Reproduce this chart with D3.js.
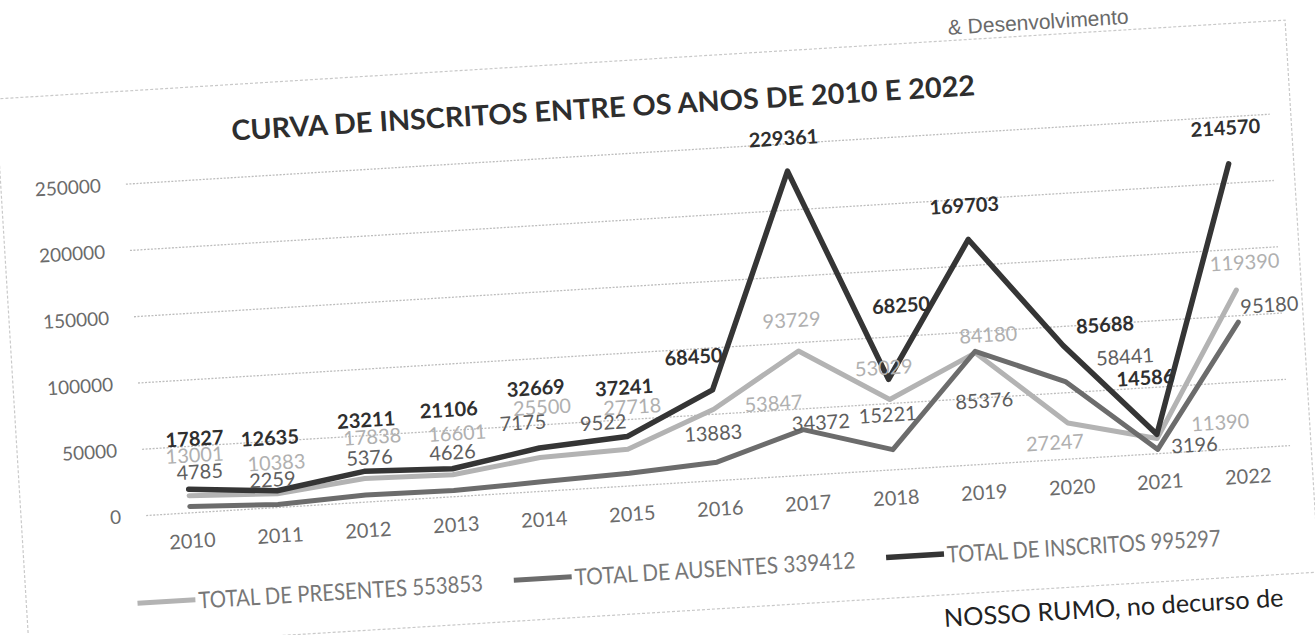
<!DOCTYPE html>
<html><head><meta charset="utf-8">
<script src="https://cdn.jsdelivr.net/npm/d3@7"></script>
<style>html,body{margin:0;padding:0;background:#fff;overflow:hidden}svg{display:block}</style>
</head><body>
<svg id="chart" width="1315" height="635"></svg>
<script>
// ---------- data ----------
const years = ["2010","2011","2012","2013","2014","2015","2016","2017","2018","2019","2020","2021","2022"];
const presentes = [13001,10383,17838,16601,25500,27718,53847,93729,53029,84180,27247,11390,119390];
const ausentes  = [4785,2259,5376,4626,7175,9522,13883,34372,15221,85376,58441,3196,95180];
const inscritos = [17827,12635,23211,21106,32669,37241,68450,229361,68250,169703,85688,14586,214570];
const yTicks = [0,50000,100000,150000,200000,250000];
const seriesNames = ["TOTAL DE PRESENTES","TOTAL DE AUSENTES","TOTAL DE INSCRITOS"];
const chartTitle = "CURVA DE INSCRITOS ENTRE OS ANOS DE 2010 E 2022";
const headerText = "& Desenvolvimento";
const bodyText = "NOSSO RUMO, no decurso de";

// ---------- layout / style ----------
const W = 1315, H = 635;
const tilt = -3.5, pivot = [657, 317];
const plot = {left:135, right:1281, top:152, bottom:484};
const styles = [
  {line:"#b3b3b3", width:5, label:"#b0b0b0", weight:"normal"},
  {line:"#6c6c6c", width:5, label:"#5e5e5e", weight:"normal"},
  {line:"#353535", width:5.5, label:"#2f2f2f", weight:"bold"}
];
// manual label nudges (px) relative to each point, as placed in the original chart
const labelNudge = [
  [[8,-41],[1,-32],[10,-42],[7,-42],[5,-51],[7,-43],[60,-3],[-5,-32],[-4,-33],[14,-18],[-14,18],[64,-13],[10,-28]],
  [[12,-35],[-4,-26],[6,-38],[1,-39],[-15,-61],[-23,-53],[-2,-30],[18,-7],[-3,-36],[6,49],[61,-22],[37,-3],[32,-16]],
  [[9,-51],[-4,-54],[5,-52],[0,-60],[0,-61],[0,-50],[-17,-35],[-2,-34],[17,-74],[-2,-35],[43,-19],[-8,-58],[-1,-37]]
];
const FONT = "Lato, 'Open Sans', sans-serif";

const svg = d3.select("#chart");
svg.append("rect").attr("width",W).attr("height",H).attr("fill","#fff");
const g = svg.append("g").attr("transform",`rotate(${tilt} ${pivot[0]} ${pivot[1]})`);

// page header / body text
g.append("text").attr("x",965).attr("y",53).attr("font-family","'Liberation Sans', Arial, sans-serif")
  .attr("font-size",21).attr("fill","#6a6a6a").text(headerText);
g.append("text").attr("x",925).attr("y",644).attr("font-family",FONT)
  .attr("font-size",25).attr("fill","#222").attr("textLength",340).attr("lengthAdjust","spacingAndGlyphs").text(bodyText);

// chart border
g.append("rect").attr("x",10).attr("y",59).attr("width",1292).attr("height",553)
  .attr("fill","none").attr("stroke","#c9c9c9").attr("stroke-width",1.2).attr("stroke-dasharray","3 2");

// title
g.append("text").attr("x",616).attr("y",104).attr("text-anchor","middle").attr("dominant-baseline","central")
  .attr("font-family",FONT).attr("font-weight","bold").attr("font-size",28).attr("fill","#2e2e2e")
  .attr("textLength",745).attr("lengthAdjust","spacingAndGlyphs").text(chartTitle);

// scales
const x = d3.scalePoint().domain(years).range([plot.left, plot.right]).padding(0.5);
const y = d3.scaleLinear().domain([0,250000]).range([plot.bottom, plot.top]);

// gridlines
g.append("g").selectAll("line").data(yTicks).join("line")
  .attr("x1",plot.left).attr("x2",plot.right)
  .attr("y1",d=>y(d)).attr("y2",d=>y(d))
  .attr("stroke","#bdbdbd").attr("stroke-width",1.3).attr("stroke-dasharray","2 1.5");

// y axis labels
const yAxis = d3.axisLeft(y).tickValues(yTicks).tickSize(0).tickPadding(0).tickFormat(d3.format("d"));
const ya = g.append("g").attr("transform",`translate(${plot.left-25},0)`).call(yAxis);
ya.select(".domain").remove();
ya.selectAll("text").attr("font-family",FONT).attr("font-size",19).attr("fill","#6b6b6b");

// x axis labels
const xAxis = d3.axisBottom(x).tickSize(0).tickPadding(0);
const xa = g.append("g").attr("transform",`translate(0,${plot.bottom+21})`).call(xAxis);
xa.select(".domain").remove();
xa.selectAll("text").attr("font-family",FONT).attr("font-size",20).attr("fill","#6b6b6b");

// lines
const series = [presentes, ausentes, inscritos];
const line = d3.line().x((d,i)=>x(years[i])).y(d=>y(d));
series.forEach((s,k)=>{
  g.append("path").datum(s).attr("d",line).attr("fill","none")
    .attr("stroke",styles[k].line).attr("stroke-width",styles[k].width)
    .attr("stroke-linejoin","round").attr("stroke-linecap","round");
});

// data labels
series.forEach((s,k)=>{
  g.append("g").selectAll("text").data(s).join("text")
    .attr("x",(d,i)=>x(years[i])+labelNudge[k][i][0])
    .attr("y",(d,i)=>y(d)+labelNudge[k][i][1])
    .attr("text-anchor","middle").attr("dominant-baseline","central")
    .attr("font-family",FONT).attr("font-size",20).attr("font-weight",styles[k].weight)
    .attr("fill",styles[k].label).text(d=>d);
});

// legend
const legendY = 571;
let lx = 121;
const legendWidths = [285,281,274];
series.forEach((s,k)=>{
  g.append("line").attr("x1",lx).attr("x2",lx+58).attr("y1",legendY).attr("y2",legendY)
    .attr("stroke",styles[k].line).attr("stroke-width",styles[k].width);
  g.append("text").attr("x",lx+61).attr("y",legendY).attr("dominant-baseline","central")
    .attr("font-family",FONT).attr("font-size",23).attr("fill","#777")
    .attr("textLength",legendWidths[k]).attr("lengthAdjust","spacingAndGlyphs")
    .text(seriesNames[k]+" "+d3.sum(s));
  lx += 61 + legendWidths[k] + 31;
});
</script>
</body></html>
